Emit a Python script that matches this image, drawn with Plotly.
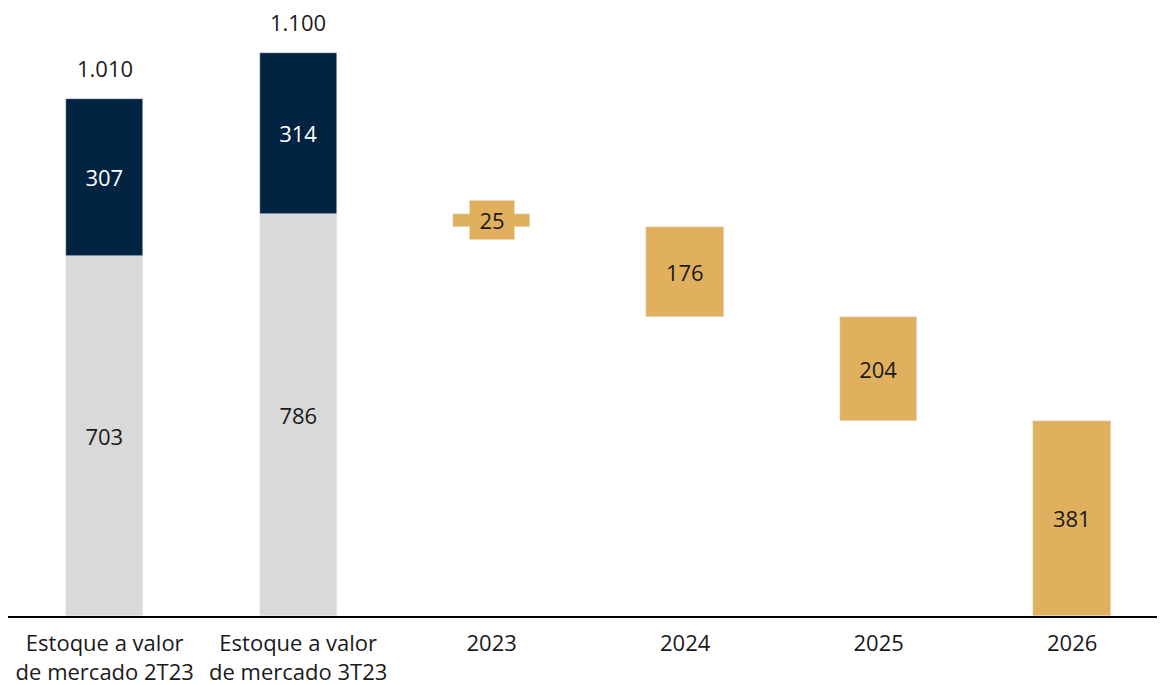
import plotly.graph_objects as go

categories = ["Estoque a valor<br>de mercado 2T23", "Estoque a valor<br>de mercado 3T23",
              "2023", "2024", "2025", "2026"]
stock_base = [703, 786]          # gray part
stock_top = [307, 314]           # navy part
stock_total_labels = ["1.010", "1.100"]
maturity_years = ["2023", "2024", "2025", "2026"]
maturity_values = [25, 176, 204, 381]

NAVY = "#022341"
GRAY = "#D9D9D9"
GOLD = "#E0B05F"
TXT = "#1a1a1a"
FONT = "Open Sans"
FS = 22
BW = 0.40

fig = go.Figure()

idx_stock = [0, 1]
fig.add_trace(go.Bar(x=idx_stock, y=stock_base, marker_color=GRAY, width=BW,
                     text=[str(v) for v in stock_base], textposition="inside",
                     insidetextanchor="middle",
                     textfont=dict(color=TXT, size=FS, family=FONT)))
fig.add_trace(go.Bar(x=idx_stock, y=stock_top, base=stock_base, marker_color=NAVY, width=BW,
                     text=[str(v) for v in stock_top], textposition="inside",
                     insidetextanchor="middle",
                     textfont=dict(color="white", size=FS, family=FONT)))

# waterfall of maturities starting from the current stock base
start = stock_base[1]
bases = []
cur = start
for v in maturity_values:
    cur -= v
    bases.append(cur)

idx_mat = [categories.index(y) for y in maturity_years]
texts = [str(v) if v >= 50 else "" for v in maturity_values]
fig.add_trace(go.Bar(x=idx_mat, y=maturity_values, base=bases, marker_color=GOLD, width=BW,
                     text=texts, textposition="inside", insidetextanchor="middle",
                     textfont=dict(color=TXT, size=FS, family=FONT)))

annotations = []
for i, b, t, lab in zip(idx_stock, stock_base, stock_top, stock_total_labels):
    annotations.append(dict(x=i, y=b + t, text=lab, showarrow=False, yanchor="bottom",
                            yshift=14, font=dict(size=FS, color=TXT, family=FONT)))
for i, v, b in zip(idx_mat, maturity_values, bases):
    if v < 50:
        annotations.append(dict(x=i, y=b + v / 2, text=str(v), showarrow=False,
                                bgcolor=GOLD, borderpad=4, width=36, height=30,
                                xanchor="center", yanchor="middle",
                                font=dict(size=FS, color=TXT, family=FONT)))

fig.update_layout(
    width=1157, height=677,
    margin=dict(l=0, r=0, t=0, b=69, autoexpand=False),
    paper_bgcolor="white", plot_bgcolor="white",
    barmode="overlay", showlegend=False,
    bargap=0,
    annotations=annotations,
    font=dict(family=FONT, size=FS, color=TXT),
)
fig.update_xaxes(type="linear", range=[-0.5, 5.48], tickmode="array",
                 tickvals=list(range(len(categories))), ticktext=categories,
                 showline=True, linecolor="black", linewidth=2, ticks="",
                 ticklabelstandoff=7, automargin=False,
                 tickfont=dict(size=22, color=TXT, family=FONT), showgrid=False, zeroline=False)
fig.update_yaxes(range=[0, 1188], visible=False, showgrid=False, zeroline=False)

fig.write_html("out.html")
